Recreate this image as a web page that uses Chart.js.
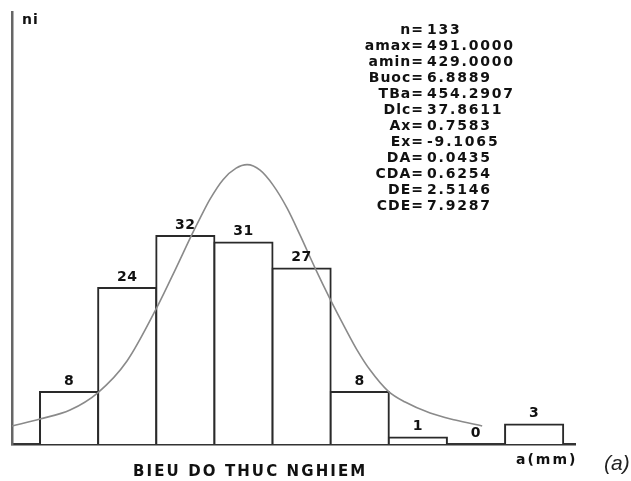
<!DOCTYPE html>
<html>
<head>
<meta charset="utf-8">
<script src="https://cdn.jsdelivr.net/npm/chart.js@4/dist/chart.umd.min.js"></script>
<style>
  html, body { margin: 0; padding: 0; background: #fff; overflow: hidden; }
  #myChart { display: block; }
</style>
</head>
<body>
<canvas id="myChart" width="631" height="481"></canvas>
<script>
// Class centres (mm) and frequencies ni
const classCenters = [432.444, 439.333, 446.222, 453.111, 460.000, 466.889, 473.778, 480.667, 487.556];
const frequencies = [8, 24, 32, 31, 27, 8, 1, 0, 3];

// Fitted curve
const curveX = [425.68, 429.0, 432.56, 435.88, 439.31, 442.99, 445.12, 447.02, 447.97, 449.15, 450.69, 452.24, 453.54, 455.08, 456.62, 458.28, 459.82, 461.6, 463.38, 465.16, 466.58, 468.12, 470.25, 472.27, 475.23, 478.2, 481.4];
const curveY = [2.77, 3.85, 5.23, 7.92, 12.77, 21.38, 27.08, 32.31, 34.77, 37.69, 40.69, 42.46, 43.0, 42.15, 39.85, 36.31, 32.15, 27.08, 22.31, 17.85, 14.46, 11.38, 8.15, 6.46, 4.77, 3.69, 2.77];

// Statistics block
const statNames = ['n', 'amax', 'amin', 'Buoc', 'TBa', 'Dlc', 'Ax', 'Ex', 'DA', 'CDA', 'DE', 'CDE'];
const statValues = ['133', '491.0000', '429.0000', '6.8889', '454.2907', '37.8611', '0.7583', '-9.1065', '0.0435', '0.6254', '2.5146', '7.9287'];

// Axis range
const xMin = 425.68;
const xMax = 492.4;
const yMax = 66.5;

const ctx = document.getElementById('myChart');
const boldFont = 'bold 14px "DejaVu Sans"';

// Texts: value labels, stats, axis names
const textPlugin = {
    id: 'texts',
    afterDatasetsDraw(chart) {
        const c = chart.ctx;
        c.save();
        c.fillStyle = '#111';
        c.font = boldFont;
        c.letterSpacing = '0.5px';
        c.textAlign = 'center';
        c.textBaseline = 'bottom';
        const bars = chart.getDatasetMeta(1).data;
        bars.forEach((bar, i) => {
            c.fillText(String(frequencies[i]), bar.x, bar.y - 4);
        });

        c.textBaseline = 'middle';
        statNames.forEach((name, i) => {
            const y = 30 + i * 16;
            c.letterSpacing = '1px';
            c.textAlign = 'right';
            c.fillText(name + '=', 424, y);
            c.letterSpacing = '1.8px';
            c.textAlign = 'left';
            c.fillText(statValues[i], 427, y);
        });

        c.textAlign = 'left';
        c.letterSpacing = '1px';
        c.fillText('ni', 22, 20);

        c.font = 'bold 15px "DejaVu Sans"';
        c.letterSpacing = '2.1px';
        c.fillText('BIEU DO THUC NGHIEM', 133, 472);

        c.font = boldFont;
        c.letterSpacing = '2px';
        c.fillText('a(mm)', 516, 460);

        c.letterSpacing = '0px';
        c.font = 'italic 21px "Liberation Sans"';
        c.fillStyle = '#222';
        c.fillText('(a)', 604, 464);
        c.restore();
    }
};

const myChart = new Chart(ctx, {
    type: 'bar',
    data: {
        datasets: [
            {
                type: 'line',
                data: curveX.map((x, i) => ({x: x, y: curveY[i]})),
                borderColor: '#8a8a8a',
                borderWidth: 1.6,
                pointRadius: 0,
                cubicInterpolationMode: 'monotone',
                fill: false,
                order: 0
            },
            {
                type: 'bar',
                data: classCenters.map((x, i) => ({x: x, y: frequencies[i]})),
                backgroundColor: '#ffffff',
                borderColor: '#2a2a2a',
                borderWidth: 2,
                inflateAmount: 1,
                barPercentage: 1,
                categoryPercentage: 1,
                order: 1
            }
        ]
    },
    options: {
        responsive: false,
        animation: false,
        layout: { padding: { left: 12, top: 12, right: 56, bottom: 37 } },
        plugins: { legend: { display: false }, tooltip: { enabled: false } },
        scales: {
            x: {
                type: 'linear',
                offset: false,
                min: xMin,
                max: xMax,
                ticks: { display: false },
                grid: { display: false, drawTicks: false },
                border: { display: true, color: '#333', width: 2.5 }
            },
            y: {
                min: 0,
                max: yMax,
                ticks: { display: false },
                grid: { display: false, drawTicks: false },
                border: { display: true, color: '#666', width: 2.5 }
            }
        }
    },
    plugins: [textPlugin]
});
</script>
</body>
</html>
